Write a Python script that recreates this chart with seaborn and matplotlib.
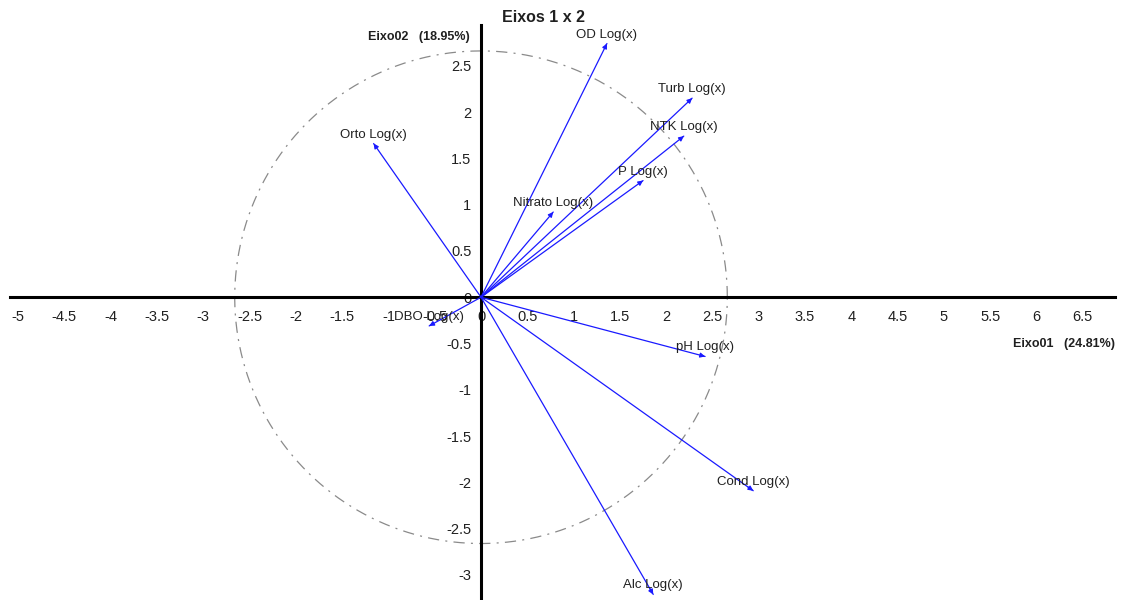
import numpy as np
import pandas as pd
import seaborn as sns
import matplotlib.pyplot as plt

# cargas das variaveis nos eixos 1 e 2
variaveis = ['OD Log(x)', 'Turb Log(x)', 'NTK Log(x)', 'P Log(x)', 'Nitrato Log(x)',
             'Orto Log(x)', 'DBO Log(x)', 'pH Log(x)', 'Cond Log(x)', 'Alc Log(x)']
eixo1 = [1.36, 2.28, 2.19, 1.75, 0.78, -1.16, -0.56, 2.42, 2.94, 1.86]
eixo2 = [2.74, 2.15, 1.74, 1.26, 0.92, 1.66, -0.31, -0.64, -2.09, -3.21]
raio = 2.66

xticks = np.arange(-5, 7, 0.5)
yticks = np.arange(-3, 3, 0.5)

sns.set_theme(style='white')
plt.rcParams['font.family'] = ['Liberation Sans', 'DejaVu Sans']

fig = plt.figure(figsize=(11.25, 6), dpi=100)
ax = fig.add_axes([0, 0, 1, 1])

# circulo de correlacao
t = np.linspace(0, 2 * np.pi, 400)
ax.plot(raio * np.cos(t), raio * np.sin(t), color='#8a8a8a', lw=0.9,
        linestyle=(0, (9, 5, 1.6, 5)), zorder=1)

# vetores
linhas = pd.DataFrame({
    'var': np.repeat(variaveis, 2),
    'x': np.ravel([[0, v] for v in eixo1]),
    'y': np.ravel([[0, v] for v in eixo2]),
})
sns.lineplot(data=linhas, x='x', y='y', units='var', estimator=None, sort=False,
             color='#1a1aff', lw=0.9, ax=ax, legend=False, zorder=3)

for nome, x, y in zip(variaveis, eixo1, eixo2):
    ax.annotate('', xy=(x, y), xytext=(x * 0.98, y * 0.98),
                arrowprops=dict(arrowstyle='-|>', color='#1a1aff', lw=0.9,
                                mutation_scale=7, shrinkA=0, shrinkB=0), zorder=4)
    ax.annotate(nome, xy=(x, y), xytext=(0, 9), textcoords='offset pixels',
                ha='center', va='center', fontsize=9.5, color='#202020', zorder=5)

ax.set_xlim(-5.19, 6.95)
ax.set_ylim(-3.27, 3.21)
ax.set_aspect('equal')

for s in ['top', 'right']:
    ax.spines[s].set_visible(False)
ax.spines['left'].set_position('zero')
ax.spines['bottom'].set_position('zero')
ax.spines['left'].set_bounds(-3.3, 2.94)
ax.spines['bottom'].set_bounds(-5.09, 6.85)
for s in ['left', 'bottom']:
    ax.spines[s].set_color('black')
    ax.spines[s].set_linewidth(2.2)
    ax.spines[s].set_zorder(2)

ax.set_xticks(xticks)
ax.set_yticks(yticks)
ax.set_xticklabels([f'{v:g}' for v in xticks])
ax.set_yticklabels([f'{v:g}' for v in yticks])
ax.tick_params(axis='both', direction='out', length=4, width=1, color='#404040',
               labelsize=10.5, labelcolor='#202020', pad=3)
ax.tick_params(axis='x', pad=5)
ax.set_xlabel('')
ax.set_ylabel('')

fig.text(543 / 1125, 1 - 18 / 600, 'Eixos 1 x 2', ha='center', va='center',
         fontsize=11.5, fontweight='bold', color='#202020')
fig.text(470 / 1125, 1 - 37 / 600, 'Eixo02   (18.95%)', ha='right', va='center',
         fontsize=9, fontweight='bold', color='#202020')
fig.text(1115 / 1125, 1 - 344 / 600, 'Eixo01   (24.81%)', ha='right', va='center',
         fontsize=9, fontweight='bold', color='#202020')

fig.savefig('out.png', dpi=100)
